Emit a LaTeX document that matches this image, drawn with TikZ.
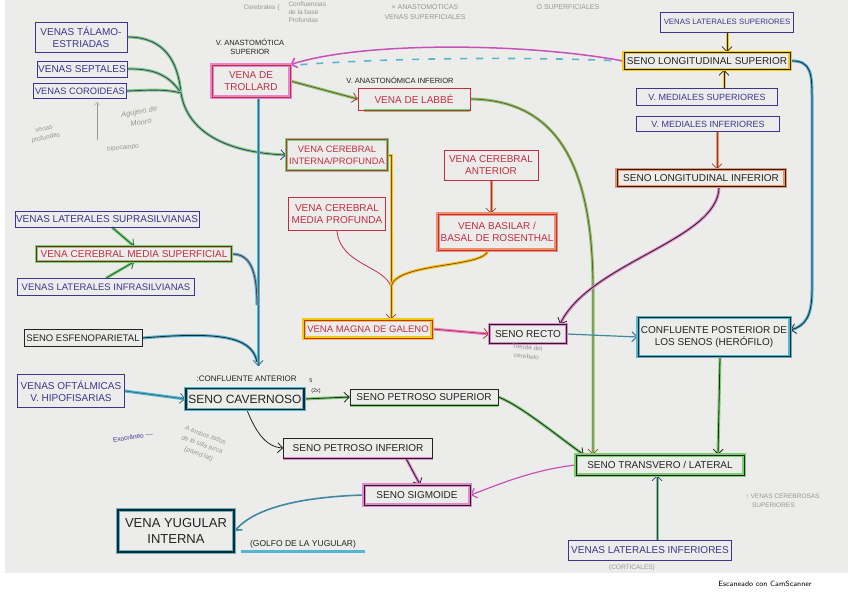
\documentclass[tikz,border=0pt]{standalone}
\usepackage{fontspec}
\newfontfamily\hand{Liberation Sans}
\usetikzlibrary{arrows.meta,backgrounds}
\definecolor{paper}{RGB}{236,237,234}
\definecolor{navy}{RGB}{60,52,145}
\definecolor{redpen}{RGB}{195,45,65}
\definecolor{darkred}{RGB}{130,35,35}
\definecolor{blackpen}{RGB}{35,35,35}
\definecolor{brownpen}{RGB}{150,70,40}
\definecolor{hlpink}{RGB}{228,135,205}
\definecolor{hlmag}{RGB}{200,80,185}
\definecolor{hlgreen}{RGB}{125,205,115}
\definecolor{hlyellow}{RGB}{240,200,25}
\definecolor{hlorange}{RGB}{236,145,105}
\definecolor{hlcyan}{RGB}{85,182,212}
\definecolor{pencil}{RGB}{150,150,150}
\tikzset{
  box/.style={draw=#1, text=#1, line width=0.7pt, inner sep=1pt, align=center,
    font=\hand\fontsize{10}{12}\selectfont},
  box/.default=navy,
  fs/.style={font=\hand\fontsize{#1}{12}\selectfont},
  hl/.style={preaction={draw=#1, line width=3.5pt}},
  sz/.style 2 args={minimum width=#1pt, minimum height=#2pt},
  pen/.style={draw=#1, line width=0.8pt},
  con/.style={draw=#1, line width=0.8pt, -{Straight Barb[length=5pt,width=10pt]}},
  hline/.style={preaction={draw=#1, line width=3pt, -}},
  lbl/.style={font=\hand\fontsize{7.5}{9}\selectfont, text=blackpen, align=center},
  pnc/.style={font=\hand\fontsize{6.5}{9}\selectfont, text=pencil, align=center}
}
\begin{document}
\begin{tikzpicture}[x=1pt,y=-1pt]
\useasboundingbox (0,0) rectangle (848,599);
\begin{scope}[on background layer]
\fill[white] (0,0) rectangle (848,599);
\fill[paper] (5,0) rectangle (848,573);
\end{scope}

% ---------- nodes ----------
\node[box=navy, sz={92}{30}] (tal) at (81,37) {VENAS TÁLAMO-\\ESTRIADAS};
\node[box=navy, sz={90}{16}] (sep) at (82,69) {VENAS SEPTALES};
\node[box=navy, fs=9.3, sz={93}{15}] (cor) at (80,91) {VENAS COROIDEAS};
\node[box=redpen, hl=hlpink, sz={78}{32}] (trol) at (251,81) {VENA DE\\TROLLARD};
\node[box=redpen, sz={112}{22}] (labbe) at (414,99) {VENA DE LABBÉ};
\node[box=redpen, fs=9.3, hl=hlgreen, sz={101}{31}] (cint) at (337,155) {VENA CEREBRAL\\INTERNA/PROFUNDA};
\node[box=redpen, sz={97}{33}] (cmp) at (337,214) {VENA CEREBRAL\\MEDIA PROFUNDA};
\node[box=redpen, sz={94}{30}] (cant) at (491,165) {VENA CEREBRAL\\ANTERIOR};
\node[box=redpen, hl=hlorange, sz={118}{36}] (bas) at (497,232) {VENA BASILAR /\\BASAL DE ROSENTHAL};
\node[box=redpen, fs=9.5, hl=hlyellow, sz={128}{18}] (gal) at (368,329) {VENA MAGNA DE GALENO};
\node[box=blackpen, hl=hlpink, sz={77}{19}] (recto) at (528,334) {SENO RECTO};
\node[box=blackpen, hl=hlcyan, sz={152}{39}] (conf) at (714,337) {CONFLUENTE POSTERIOR DE\\LOS SENOS (HERÓFILO)};
\node[box=blackpen, hl=hlgreen, sz={168}{20}] (trans) at (660,465) {SENO TRANSVERO / LATERAL};
\node[box=navy, sz={163}{20}] (linf) at (650,550) {VENAS LATERALES INFERIORES};
\node[box=navy, fs=7.8, sz={133}{20}] (lsup) at (727,22) {VENAS LATERALES SUPERIORES};
\node[box=blackpen, hl=hlyellow, sz={166}{17}] (sls) at (707,61) {SENO LONGITUDINAL SUPERIOR};
\node[box=navy, fs=9, sz={141}{17}] (msup) at (707,97) {V. MEDIALES SUPERIORES};
\node[box=navy, fs=9, sz={143}{15}] (minf) at (708,124) {V. MEDIALES INFERIORES};
\node[box=blackpen, hl=hlorange, sz={168}{17}] (sli) at (701,178) {SENO LONGITUDINAL INFERIOR};
\node[box=navy, sz={178}{16}] (supra) at (107,219) {VENAS LATERALES SUPRASILVIANAS};
\node[box=darkred, text=redpen, hl=hlgreen, sz={195}{15}] (cms) at (134,254) {VENA CEREBRAL MEDIA SUPERFICIAL};
\node[box=navy, fs=9.5, sz={177}{17}] (infra) at (106,287) {VENAS LATERALES INFRASILVIANAS};
\node[box=blackpen, fs=9.5, sz={118}{17}] (esf) at (83,338) {SENO ESFENOPARIETAL};
\node[box=navy, sz={107}{33}] (oft) at (71,391) {VENAS OFTÁLMICAS\\V. HIPOFISARIAS};
\node[box=blackpen, hl=hlcyan, line width=1.2pt, sz={118}{21}, fs=12] (cav) at (245,399) {SENO CAVERNOSO};
\node[box=blackpen, sz={148}{16}] (pss) at (424,397) {SENO PETROSO SUPERIOR};
\node[box=blackpen, sz={149}{20}] (psi) at (358,448) {SENO PETROSO INFERIOR};
\node[box=blackpen, hl=hlpink, sz={106}{20}] (sig) at (417,495) {SENO SIGMOIDE};
\node[box=blackpen, hl=hlcyan, line width=1.2pt, sz={116}{42}, font=\hand\fontsize{13}{16}\selectfont] (yug) at (176,531) {VENA YUGULAR\\INTERNA};

% ---------- labels ----------
\node[lbl] (lsupl) at (250,47) {V. ANASTOMÓTICA\\SUPERIOR};
\node[lbl] (linfl) at (400,80) {V. ANASTONÓMICA INFERIOR};
\node[lbl, font=\hand\fontsize{8}{9}\selectfont, anchor=west] (cantl) at (193,379) {:CONFLUENTE ANTERIOR};
\node[lbl, font=\hand\fontsize{5.5}{6}\selectfont] (cant5) at (311,381) {5};
\node[lbl, font=\hand\fontsize{5.5}{6}\selectfont] (cant2) at (316,391) {(2x)};
\node[lbl, font=\hand\fontsize{8.5}{9}\selectfont] (golfo) at (303,544) {(GOLFO DE LA YUGULAR)};
\node[pnc] (cortic) at (632,568) {(CORTICALES)};
\node[pnc, align=left, anchor=west] (vcs) at (742,501) {↑ VENAS CEREBROSAS\\\quad SUPERIORES};
\node[pnc, rotate=-5] (tienda) at (527,352) {Tienda del\\cerebelo};
\node[pnc, anchor=east] (cereb) at (283,8) {Cerebrales \{};
\node[pnc, font=\hand\fontsize{6.5}{8}\selectfont, align=left, anchor=west] (confl) at (285,12) {Confluencias\\de la base\\Profundas};
\node[pnc, font=\hand\fontsize{7}{10}\selectfont] (anast) at (425,12) {× ANASTOMÓTICAS\\VENAS SUPERFICIALES};
\node[pnc, font=\hand\fontsize{7}{10}\selectfont] (osup) at (568,7) {O SUPERFICIALES};
\node[pnc, rotate=12] (vprof) at (45,134) {venas\\profundas};
\node[pnc, rotate=10, font=\hand\itshape\fontsize{7.5}{11}\selectfont] (monro) at (140,117) {Agujero de\\Monro};
\node[pnc, rotate=5] (hipo) at (123,148) {hipocampo};
\node[pnc, text=navy, rotate=8] (exo) at (133,437) {Exocráneo \~{}\~{}};
\node[pnc, rotate=-20, font=\hand\itshape\fontsize{6.5}{10}\selectfont] (ambos) at (202,445) {A ambos lados\\de la silla turca\\(pared lat)};
\node[font=\fontsize{7.5}{9}\selectfont\sffamily] (scan) at (765,584) {Escaneado con CamScanner};

% ---------- connectors ----------
\coordinate (J1) at (181,93);
\coordinate (J2) at (257,305);
\coordinate (J3) at (257,362);
\coordinate (cavin) at (258,366);
\coordinate (J4) at (391,287);
\coordinate (hipoa) at (97,140);
\coordinate (hipob) at (97,102);
\begin{scope}[on background layer]
\draw[hlcyan, line width=2.5pt] ([xshift=-62pt]golfo.south) -- ([xshift=62pt]golfo.south);
\draw[hlgreen, line width=3pt] ([xshift=6pt]labbe.south west) -- (labbe.south east);
\draw[hlgreen, line width=3pt] (pss.south west) -- (pss.south east);
\draw[hlpink, line width=3pt] (psi.south west) -- (psi.south east);
\draw[pencil, line width=0.4pt, -{Straight Barb[length=3pt,width=5pt]}] (hipoa) -- (hipob);

\draw[pen=navy, hline=hlgreen] (tal.east) .. controls (165,37) and (178,62) .. (J1);
\draw[con=navy, hline=hlgreen] (J1) .. controls (186,125) and (215,152) .. (cint.west);
\draw[pen=navy, hline=hlgreen] (sep.east) .. controls (160,68) and (172,80) .. (J1);
\draw[pen=navy, hline=hlgreen] (cor.east) .. controls (150,90) and (165,89) .. (J1);

\draw[con=brownpen, hline=hlgreen] (trol.east) -- (labbe.west);
\draw[hlcyan, line width=1.6pt, dash pattern=on 7pt off 9pt] ([xshift=10pt]trol.north east) .. controls (420,56) and (560,58) .. (sls.west);
\draw[con=hlmag, line width=1.5pt] (sls.west) .. controls (520,42) and (360,42) .. (trol.north east);

\draw[con=blackpen!50!hlcyan, hline=hlcyan] (trol.south -| cavin) -- (cavin);
\draw[pen=darkred, hline=hlcyan] (cms.east) .. controls (250,254) and (257,270) .. (J2);
\draw[pen=blackpen, hline=hlcyan] (esf.east) .. controls (215,332) and (252,335) .. (J3);

\draw[con=navy!60!green!70!black, hline=hlgreen] ([xshift=5pt]supra.south) -- (cms.north);
\draw[con=navy!60!green!70!black, hline=hlgreen] (infra.north) -- (cms.south);

\draw[con=hlcyan!60!black, hline=hlcyan] (oft.east) -- (cav.west);
\draw[con=blackpen, hline=hlgreen] (cav.east) -- (pss.west);
\draw[con=blackpen] ([xshift=2pt]cav.south) .. controls (255,430) and (265,447) .. (psi.west);
\draw[con=blackpen, hline=hlgreen] (pss.east) .. controls (520,405) and (560,438) .. ([xshift=8pt]trans.north west);
\draw[con=blackpen, hline=hlpink] ([xshift=48pt]psi.south) -- ([xshift=3pt]sig.north);
\draw[con=hlmag, line width=1.2pt] (trans.west) .. controls (530,470) and (490,488) .. (sig.east);
\draw[con=hlcyan!75!black, line width=1.6pt] (sig.west) .. controls (300,497) and (255,508) .. (yug.east);
\draw[con=navy, hline=hlgreen] ([xshift=7pt]linf.north) -- ([xshift=-3pt]trans.south);
\draw[con=blackpen, hline=hlgreen] ([xshift=6pt]conf.south) -- ([xshift=58pt]trans.north);
\draw[con=brownpen, hline=hlgreen] (labbe.east) .. controls (560,100) and (593,170) .. (593,290) -- ([xshift=-67pt]trans.north);
\draw[con=redpen, hline=hlpink] (gal.east) -- (recto.west);
\draw[con=hlcyan!75!black, line width=1.2pt] (recto.east) -- (conf.west);
\draw[con=blackpen, hline=hlpink] ([xshift=18pt]sli.south) .. controls (719,240) and (590,262) .. ([xshift=32pt]recto.north);
\draw[con=blackpen, hline=hlcyan] (sls.east) .. controls (812,60) and (812,75) .. (812,100) -- (812,290) .. controls (812,315) and (806,326) .. ([yshift=7pt]conf.east);
\draw[con=blackpen, hline=hlyellow] (lsup.south) -- (lsup.south |- sls.north);
\draw[con=blackpen, hline=hlyellow] ([xshift=17pt]msup.north) -- ([xshift=17pt]sls.south);
\draw[con=brownpen, hline=hlorange] ([xshift=9pt]minf.south) -- ([xshift=16pt]sli.north);
\draw[con=brownpen, hline=hlorange] (cant.south) -- (cant.south |- bas.north);
\draw[pen=brownpen, hline=hlyellow] (cint.east) -| (J4);
\draw[pen=redpen] (cmp.south) .. controls (340,265) and (385,266) .. (J4);
\draw[pen=brownpen, hline=hlyellow] ([xshift=-9pt]bas.south) .. controls (485,268) and (395,262) .. (J4);
\draw[con=brownpen, hline=hlyellow] (J4) -- (gal.north -| J4);
\end{scope}
\end{tikzpicture}
\end{document}
